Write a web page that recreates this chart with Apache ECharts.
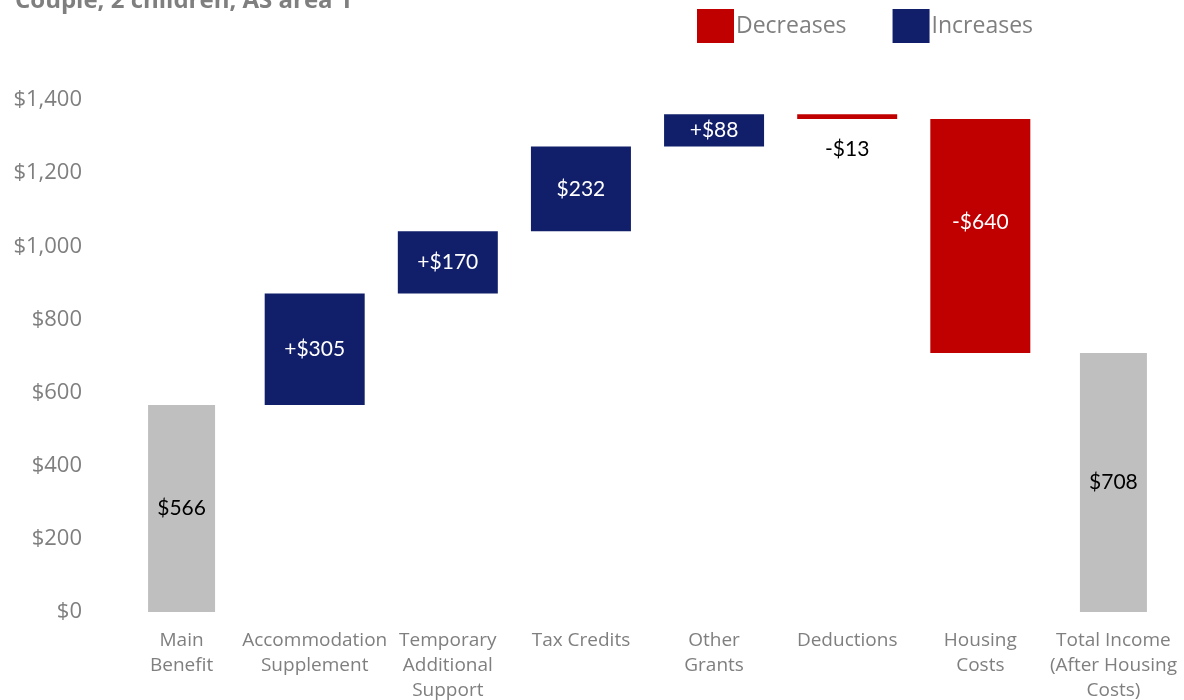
<!DOCTYPE html>
<html><head><meta charset="utf-8">
<script src="https://cdn.jsdelivr.net/npm/echarts@6/dist/echarts.min.js"></script>
<style>html,body{margin:0;padding:0;background:#fff}#c{width:1184px;height:700px}</style>
</head><body><div id="c"></div>
<script>
const categories = ['Main\nBenefit','Accommodation\nSupplement','Temporary\nAdditional\nSupport','Tax Credits','Other\nGrants','Deductions','Housing\nCosts','Total Income\n(After Housing\nCosts)'];
const kinds = ['total','inc','inc','inc','inc','dec','dec','total'];
const values = [566, 305, 170, 232, 88, 13, 640, 708];
const valueLabels = ['$566','+$305','+$170','$232','+$88','-$13','-$640','$708'];
const yTicks = [0,200,400,600,800,1000,1200,1400];

const base = [], inc = [], dec = [], tot = [];
let run = 0;
for (let i = 0; i < values.length; i++) {
  if (kinds[i] === 'total') { run = values[i]; base.push('-'); inc.push('-'); dec.push('-'); tot.push(values[i]); }
  else if (kinds[i] === 'inc') { base.push(run); inc.push(values[i]); dec.push('-'); tot.push('-'); run += values[i]; }
  else { run -= values[i]; base.push(run); dec.push(values[i]); inc.push('-'); tot.push('-'); }
}
const RED = '#C00000', NAVY = '#111F6A', GRAY = '#BFBFBF', TXT = '#7F7F7F';
const labelFont = 'Lato, "Open Sans", sans-serif';
const decData = dec.map(v => v === '-' ? '-' :
  (v < 40 ? { value: v, label: { position: 'bottom', distance: 20, color: '#000' } }
          : { value: v, label: { offset: [0, -14] } }));
const chart = echarts.init(document.getElementById('c'));
chart.setOption({
  animation: false,
  title: { text: 'Couple, 2 children, AS area 1', left: 10, top: -16,
    textStyle: { color: TXT, fontSize: 24, fontWeight: 'bold', fontFamily: '"Open Sans", sans-serif' } },
  legend: { data: ['Decreases','Increases'], top: 9, left: 697, icon: 'rect', itemWidth: 37, itemHeight: 34, itemGap: 46,
    padding: 0,
    textStyle: { color: TXT, fontSize: 23, fontFamily: '"Open Sans", sans-serif', padding: [0,0,0,-3] } },
  grid: { left: 115, right: 4, top: 100, bottom: 88, outerBoundsMode: 'none', containLabel: false },
  xAxis: [
    { type: 'category', data: categories, axisLine: { show: false }, axisTick: { show: false },
      axisLabel: { color: TXT, fontSize: 19, lineHeight: 25, margin: 16, interval: 0, fontFamily: '"Open Sans", sans-serif' } },
    { type: 'category', data: categories, show: false }
  ],
  yAxis: { type: 'value', min: yTicks[0], max: yTicks[yTicks.length-1], interval: 200, splitLine: { show: false },
    axisLine: { show: false }, axisTick: { show: false },
    axisLabel: { color: TXT, fontSize: 22, margin: 33, fontFamily: '"Open Sans", sans-serif', formatter: v => '$' + v.toLocaleString('en-US') } },
  series: [
    { name: 'base', type: 'bar', stack: 'w', barWidth: 100, data: base, itemStyle: { color: 'transparent' }, silent: true },
    { name: 'Increases', type: 'bar', stack: 'w', barWidth: 100, data: inc, itemStyle: { color: NAVY },
      label: { show: true, position: 'inside', color: '#fff', fontSize: 21, fontFamily: labelFont, formatter: p => valueLabels[p.dataIndex] } },
    { name: 'Decreases', type: 'bar', stack: 'w', barWidth: 100, data: decData, itemStyle: { color: RED },
      label: { show: true, position: 'inside', color: '#fff', fontSize: 21, fontFamily: labelFont,
        formatter: p => valueLabels[p.dataIndex] } },
    { name: 'Totals', type: 'bar', xAxisIndex: 1, barWidth: 67, data: tot, itemStyle: { color: GRAY },
      label: { show: true, position: 'inside', color: '#000', fontSize: 21, fontFamily: labelFont, formatter: p => valueLabels[p.dataIndex] } }
  ]
});
</script></body></html>
